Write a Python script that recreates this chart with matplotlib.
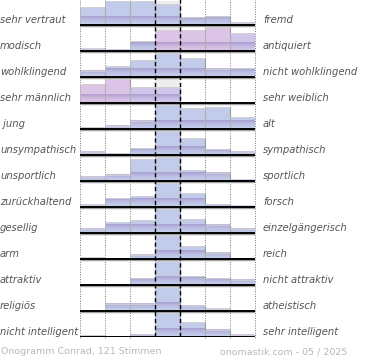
import numpy as np
import matplotlib
matplotlib.use("Agg")
import matplotlib.pyplot as plt
from matplotlib.colors import to_rgb

# ---- data ----
left_labels = ["sehr vertraut", "modisch", "wohlklingend", "sehr männlich", " jung",
               "unsympathisch", "unsportlich", "zurückhaltend", "gesellig", "arm",
               "attraktiv", "religiös", "nicht intelligent"]
right_labels = ["fremd", "antiquiert", "nicht wohlklingend", "sehr weiblich", "alt",
                "sympathisch", "sportlich", "forsch", "einzelgängerisch", "reich",
                "nicht attraktiv", "atheistisch", "sehr intelligent"]
values = [
    [0.73, 1.00, 0.99, 0.85, 0.32, 0.37, 0.10],
    [0.10, 0.06, 0.41, 0.88, 0.88, 1.00, 0.76],
    [0.26, 0.44, 0.72, 1.00, 0.78, 0.34, 0.38],
    [0.80, 1.00, 0.68, 0.66, 0.00, 0.00, 0.00],
    [0.07, 0.14, 0.35, 1.00, 0.86, 0.93, 0.48],
    [0.14, 0.07, 0.28, 1.00, 0.69, 0.24, 0.14],
    [0.17, 0.26, 0.89, 1.00, 0.47, 0.35, 0.06],
    [0.10, 0.37, 0.47, 1.00, 0.58, 0.12, 0.05],
    [0.17, 0.44, 0.52, 1.00, 0.57, 0.34, 0.17],
    [0.07, 0.00, 0.17, 1.00, 0.52, 0.25, 0.00],
    [0.00, 0.00, 0.28, 1.00, 0.37, 0.28, 0.22],
    [0.00, 0.30, 0.30, 1.00, 0.21, 0.10, 0.00],
    [0.07, 0.03, 0.11, 1.00, 0.60, 0.29, 0.10],
]
tones = [
    "bbbbbbb", "bbbpppl", "bbbbbbb", "ppllbbb", "bbbbbbb", "bbbbbbb", "bbbbbbb",
    "bbbbbbb", "bbbbbbb", "bbbbbbb", "bbbbbbb", "bbbbbbb", "bbbbbbb",
]
footer_left = "Onogramm Conrad, 121 Stimmen"
footer_right = "onomastik.com - 05 / 2025"

# ---- style ----
tone_color = {"b": "#c3cbea", "p": "#dcc4e6", "l": "#cfc6e9"}
bottom_color = np.array(to_rgb("#9483c0"))
SCALE = 0.93
n_rows = len(values)
n_cols = 7

W, H = 370, 360
fig = plt.figure(figsize=(W / 100, H / 100), dpi=100)
x0, x1 = 80, 255
ytop, ybot = -1, 337
ax = fig.add_axes([x0 / W, (H - ybot) / H, (x1 - x0) / W, (ybot - ytop) / H])
ax.set_xlim(0, n_cols)
ax.set_ylim(n_rows, 0)
ax.axis("off")

for r in range(n_rows):
    base = r + 1
    ax.bar(3.5, -SCALE, bottom=base, width=1, color="#ededed", zorder=1, linewidth=0)
    for c in range(n_cols):
        h = values[r][c]
        if h <= 0:
            continue
        col = tone_color[tones[r][c]]
        ax.bar(c + 0.5, -h * SCALE, bottom=base, width=1, color=col,
               edgecolor="none", linewidth=0, zorder=3)
        # side edges (darker) and top edge (light)
        ax.plot([c + 1, c + 1], [base, base - h * SCALE], color="#9a9a9a", lw=0.8,
                zorder=5, solid_capstyle="butt")
        ax.plot([c, c], [base, base - h * SCALE], color="#b5b5b5", lw=0.6,
                zorder=5, solid_capstyle="butt")
        ax.plot([c, c + 1], [base - h * SCALE, base - h * SCALE], color="#d2d2d2",
                lw=0.6, zorder=5, solid_capstyle="butt")
        # purple gradient toward the baseline
        gh = min(h * SCALE, 0.32)
        grad = np.zeros((30, 1, 4))
        a = 0.6 * np.linspace(0, 1, 30) ** 2
        grad[:, 0, :3] = bottom_color
        grad[:, 0, 3] = a
        ax.imshow(grad, extent=(c, c + 1, base - gh, base), aspect="auto",
                  origin="upper", zorder=4, interpolation="bilinear")
    ax.plot([0, n_cols], [base + 0.05, base + 0.05], color="#a0a0a0", lw=1.0, zorder=5,
            solid_capstyle="butt")
    ax.plot([0, n_cols], [base, base], color="black", lw=1.4, zorder=6,
            solid_capstyle="butt")
    yl = base - 5 / 26
    ax.text(-80 / 25, yl, left_labels[r], ha="left", va="center", fontsize=7.2,
            style="italic", color="#555555", clip_on=False)
    ax.text((263 - 80) / 25, yl, right_labels[r], ha="left", va="center", fontsize=7.2,
            style="italic", color="#555555", clip_on=False)

ax.set_xlim(0, n_cols)
ax.set_ylim(n_rows, 0)

for c in [0, 1, 2, 5, 6, 7]:
    ax.plot([c, c], [0 - 1 / 26, n_rows + 0.08], color="#777777", lw=0.7,
            linestyle=(0, (1, 1.5)), zorder=2, clip_on=False)
for c in [3, 4]:
    ax.plot([c, c], [0 - 1 / 26, n_rows + 0.08], color="black", lw=1.0,
            linestyle=(0, (3, 2)), zorder=7, clip_on=False)

fig.text(1 / W, 1 - 352 / H, footer_left, ha="left", va="center", fontsize=6.8,
         color="#b8b8b8")
fig.text(347 / W, 1 - 352 / H, footer_right, ha="right", va="center", fontsize=6.8,
         color="#b8b8b8")

fig.savefig("out.png", dpi=100)
